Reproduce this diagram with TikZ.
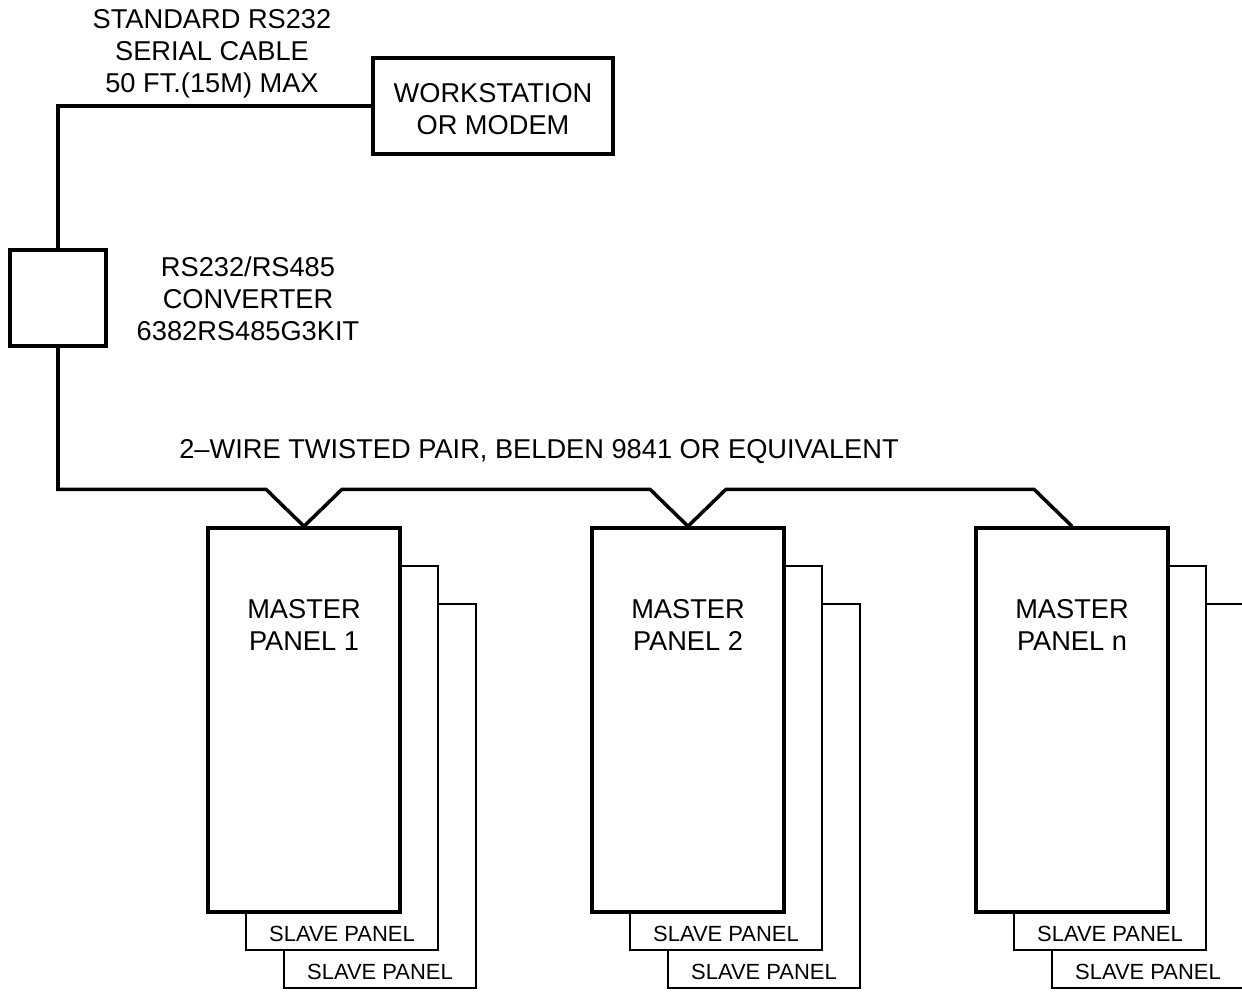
\documentclass[tikz,border=0pt]{standalone}
\usepackage{fontspec}
\setmainfont{Liberation Sans}
\usetikzlibrary{positioning}

\tikzset{
  wire/.style={line width=2pt},
  unit/.style={draw, line width=2pt, fill=white, inner sep=0pt},
  slave/.style={draw, line width=0.8pt, fill=white, inner sep=0pt,
    minimum width=3.84cm, minimum height=7.68cm},
  master/.style={unit, minimum width=3.84cm, minimum height=7.68cm},
  txt/.style={align=center, inner sep=0pt,
    font=\fontsize{15.5}{18.2}\selectfont},
  small/.style={inner sep=0pt, font=\fontsize{12.5}{15}\selectfont}
}

\begin{document}
\begin{tikzpicture}[x=0.02cm, y=-0.02cm]
  \useasboundingbox (0,0) rectangle (1242,994);
  \clip (0,0) rectangle (1242,994);

  % top part
  \node[unit, minimum width=4.8cm, minimum height=1.92cm] (ws) at (493,106) {};
  \node[txt] (wstext) at (493,109) {WORKSTATION\\OR MODEM};
  \node[unit, minimum width=1.92cm, minimum height=1.92cm] (conv) at (58,298) {};
  \node[txt] (cabletext) at (212,54) {STANDARD RS232\\SERIAL CABLE\\50 FT.(15M) MAX};
  \node[txt] (convtext) at (248,299) {RS232/RS485\\CONVERTER\\6382RS485G3KIT};
  \draw[wire] (ws.west) -| (conv.north);

  % panels
  \foreach \i/\n in {1/1,2/2,3/n}{
    \coordinate (c\i) at ({304+384*(\i-1)},720);
    \node[slave] (s\i b) at ([shift={(76,76)}]c\i) {};
    \node[slave] (s\i a) at ([shift={(38,38)}]c\i) {};
    \node[master] (m\i) at (c\i) {};
    \node[txt] (m\i t) at ([shift={(0,99)}]m\i.north) {MASTER\\PANEL \n};
    \node[small] (s\i al) at ([shift={(0,-17)}]s\i a.south) {SLAVE PANEL};
    \node[small] (s\i bl) at ([shift={(0,-17)}]s\i b.south) {SLAVE PANEL};
  }

  % rs485 bus
  \coordinate (b1l) at ([shift={(-38,-37)}]m1.north);
  \coordinate (b1r) at ([shift={(38,-37)}]m1.north);
  \coordinate (b2l) at ([shift={(-38,-37)}]m2.north);
  \coordinate (b2r) at ([shift={(38,-37)}]m2.north);
  \coordinate (b3l) at ([shift={(-38,-37)}]m3.north);
  \draw[wire] (conv.south) |- (b1l) -- (m1.north) -- (b1r) -- (b2l)
    -- (m2.north) -- (b2r) -- (b3l) -- (m3.north);
  \node[txt] (bustext) at (539,452) {2--WIRE TWISTED PAIR, BELDEN 9841 OR EQUIVALENT};
\end{tikzpicture}
\end{document}
